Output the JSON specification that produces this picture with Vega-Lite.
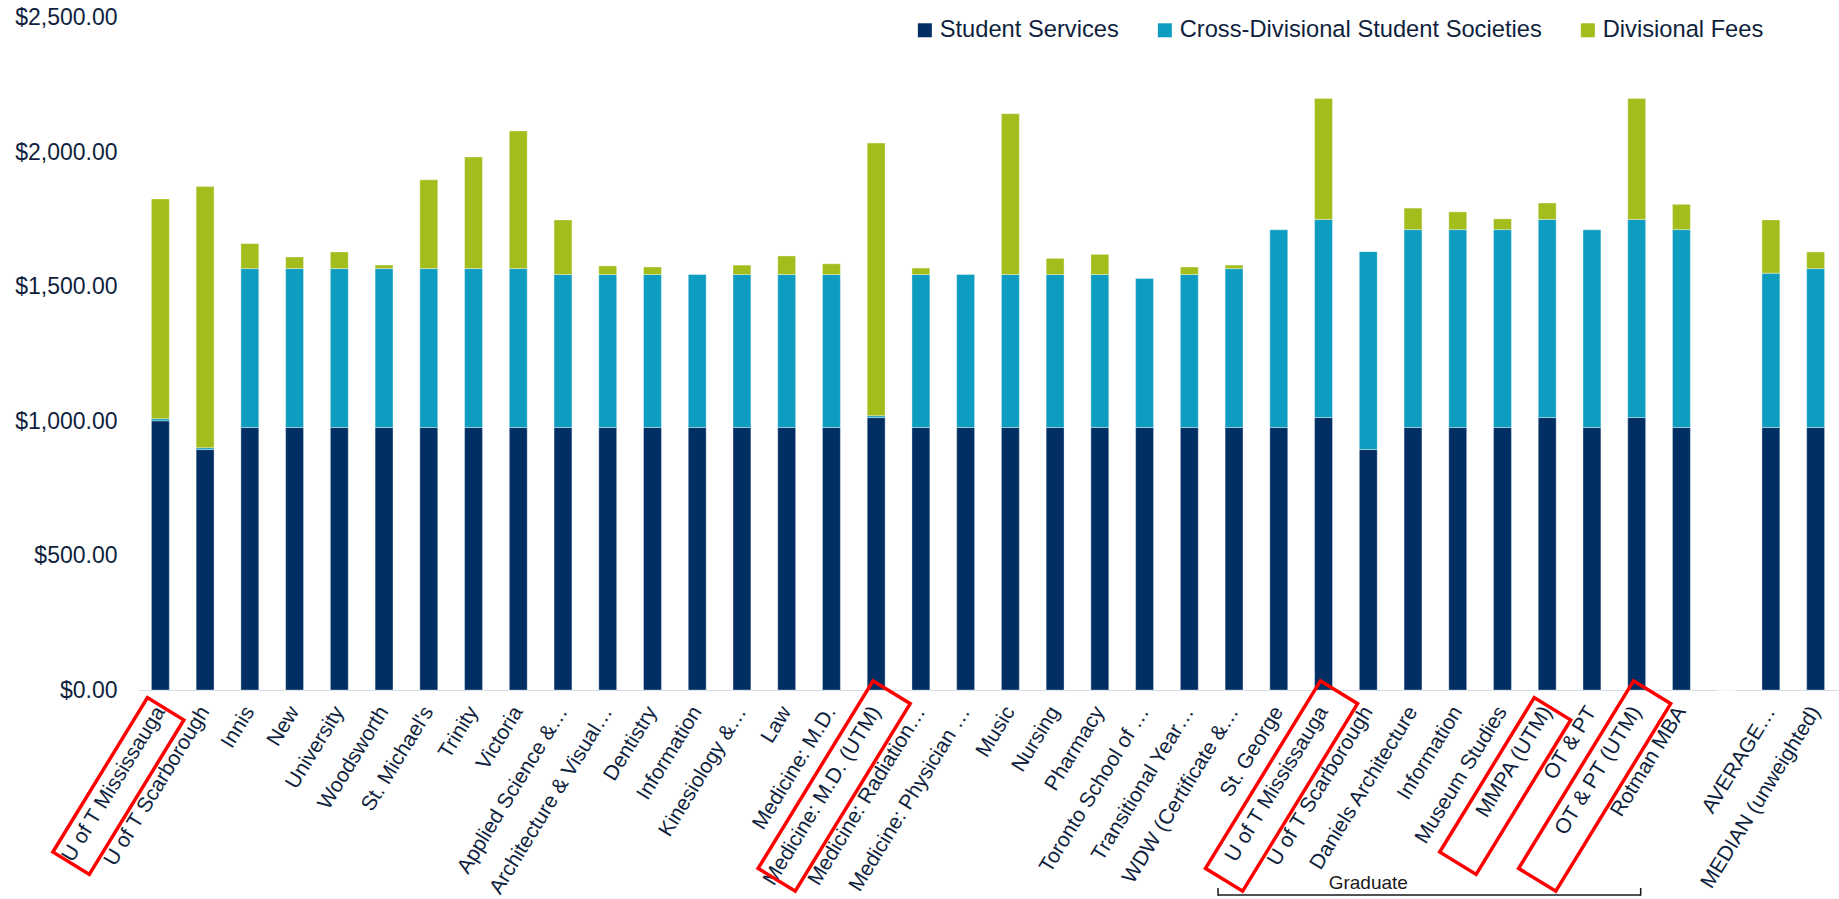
{
  "$schema": "https://vega.github.io/schema/vega-lite/v6.json",
  "width": 1700,
  "height": 672.3,
  "autosize": {"type": "none"},
  "padding": {"left": 138, "top": 17.7, "right": 1, "bottom": 209},
  "background": "#ffffff",
  "config": {
    "view": {"stroke": null},
    "font": "Liberation Sans",
    "axisX": {
      "domain": true, "domainColor": "#d5dce6", "domainWidth": 1.2,
      "ticks": false, "grid": false,
      "labelAngle": -58.5, "labelAlign": "right", "labelBaseline": "middle",
      "labelFont": "Liberation Sans", "labelFontSize": 21, "labelColor": "#0f1f3d",
      "labelPadding": 18, "labelLimit": 0, "labelOverlap": false, "labelBound": false, "labelFlush": false
    },
    "axisY": {
      "domain": false, "ticks": false, "grid": false,
      "labelFont": "Liberation Sans", "labelFontSize": 23, "labelColor": "#0f1f3d",
      "labelPadding": 21
    }
  },
  "datasets": {
    "fees": [
      {"category": "U of T Mississauga", "Student Services": 1001, "Cross-Divisional Student Societies": 8, "Divisional Fees": 817},
      {"category": "U of T Scarborough", "Student Services": 894, "Cross-Divisional Student Societies": 7, "Divisional Fees": 971},
      {"category": "Innis", "Student Services": 976, "Cross-Divisional Student Societies": 591, "Divisional Fees": 93},
      {"category": "New", "Student Services": 976, "Cross-Divisional Student Societies": 591, "Divisional Fees": 43},
      {"category": "University", "Student Services": 976, "Cross-Divisional Student Societies": 591, "Divisional Fees": 62},
      {"category": "Woodsworth", "Student Services": 976, "Cross-Divisional Student Societies": 591, "Divisional Fees": 13},
      {"category": "St. Michael's", "Student Services": 976, "Cross-Divisional Student Societies": 591, "Divisional Fees": 330},
      {"category": "Trinity", "Student Services": 976, "Cross-Divisional Student Societies": 591, "Divisional Fees": 415},
      {"category": "Victoria", "Student Services": 976, "Cross-Divisional Student Societies": 591, "Divisional Fees": 512},
      {"category": "Applied Science &…", "Student Services": 976, "Cross-Divisional Student Societies": 569, "Divisional Fees": 203},
      {"category": "Architecture & Visual…", "Student Services": 976, "Cross-Divisional Student Societies": 569, "Divisional Fees": 32},
      {"category": "Dentistry", "Student Services": 976, "Cross-Divisional Student Societies": 569, "Divisional Fees": 28},
      {"category": "Information", "Student Services": 976, "Cross-Divisional Student Societies": 570, "Divisional Fees": 0},
      {"category": "Kinesiology &…", "Student Services": 976, "Cross-Divisional Student Societies": 569, "Divisional Fees": 35},
      {"category": "Law", "Student Services": 976, "Cross-Divisional Student Societies": 569, "Divisional Fees": 69},
      {"category": "Medicine: M.D.", "Student Services": 976, "Cross-Divisional Student Societies": 569, "Divisional Fees": 40},
      {"category": "Medicine: M.D. (UTM)", "Student Services": 1013, "Cross-Divisional Student Societies": 7, "Divisional Fees": 1014},
      {"category": "Medicine: Radiation…", "Student Services": 976, "Cross-Divisional Student Societies": 569, "Divisional Fees": 24},
      {"category": "Medicine: Physician …", "Student Services": 976, "Cross-Divisional Student Societies": 570, "Divisional Fees": 0},
      {"category": "Music", "Student Services": 976, "Cross-Divisional Student Societies": 569, "Divisional Fees": 598},
      {"category": "Nursing", "Student Services": 976, "Cross-Divisional Student Societies": 569, "Divisional Fees": 60},
      {"category": "Pharmacy", "Student Services": 976, "Cross-Divisional Student Societies": 569, "Divisional Fees": 75},
      {"category": "Toronto School of …", "Student Services": 976, "Cross-Divisional Student Societies": 555, "Divisional Fees": 0},
      {"category": "Transitional Year…", "Student Services": 976, "Cross-Divisional Student Societies": 569, "Divisional Fees": 28},
      {"category": "WDW (Certificate &…", "Student Services": 976, "Cross-Divisional Student Societies": 591, "Divisional Fees": 13},
      {"category": "St. George", "Student Services": 976, "Cross-Divisional Student Societies": 736, "Divisional Fees": 0},
      {"category": "U of T Mississauga\u200b", "Student Services": 1013, "Cross-Divisional Student Societies": 737, "Divisional Fees": 450},
      {"category": "U of T Scarborough\u200b", "Student Services": 894, "Cross-Divisional Student Societies": 737, "Divisional Fees": 0},
      {"category": "Daniels Architecture", "Student Services": 976, "Cross-Divisional Student Societies": 736, "Divisional Fees": 80},
      {"category": "Information\u200b", "Student Services": 976, "Cross-Divisional Student Societies": 736, "Divisional Fees": 66},
      {"category": "Museum Studies", "Student Services": 976, "Cross-Divisional Student Societies": 736, "Divisional Fees": 40},
      {"category": "MMPA (UTM)", "Student Services": 1013, "Cross-Divisional Student Societies": 737, "Divisional Fees": 61},
      {"category": "OT & PT", "Student Services": 976, "Cross-Divisional Student Societies": 736, "Divisional Fees": 0},
      {"category": "OT & PT (UTM)", "Student Services": 1013, "Cross-Divisional Student Societies": 737, "Divisional Fees": 450},
      {"category": "Rotman MBA", "Student Services": 976, "Cross-Divisional Student Societies": 736, "Divisional Fees": 94},
      {"category": "\u200b", "Student Services": 0, "Cross-Divisional Student Societies": 0, "Divisional Fees": 0},
      {"category": "AVERAGE…", "Student Services": 976, "Cross-Divisional Student Societies": 574, "Divisional Fees": 198},
      {"category": "MEDIAN (unweighted)", "Student Services": 976, "Cross-Divisional Student Societies": 591, "Divisional Fees": 62}
    ]
  },
  "layer": [
    {
      "data": {"name": "fees"},
      "transform": [
        {"fold": ["Student Services", "Cross-Divisional Student Societies", "Divisional Fees"], "as": ["series", "amount"]},
        {"window": [{"op": "row_number", "as": "stackOrder"}], "groupby": ["category"]}
      ],
      "mark": {"type": "bar", "stroke": "#ffffff", "strokeWidth": 0.5, "strokeOpacity": 0.7},
      "encoding": {
        "x": {"field": "category", "type": "nominal", "sort": null, "title": null,
              "scale": {"paddingInner": 0.6, "paddingOuter": 0.3}},
        "y": {"field": "amount", "type": "quantitative", "stack": "zero", "title": null,
              "scale": {"domain": [0, 2500], "nice": false},
              "axis": {"values": [0, 500, 1000, 1500, 2000, 2500], "format": "$,.2f"}},
        "color": {"field": "series", "type": "nominal",
                  "scale": {"domain": ["Student Services", "Cross-Divisional Student Societies", "Divisional Fees"],
                            "range": ["#012f63", "#0e9dc0", "#a3bd1c"]},
                  "legend": {"title": null, "orient": "none", "legendX": 775, "legendY": 0.5,
                             "direction": "horizontal", "symbolType": "square", "symbolSize": 196,
                             "symbolStrokeWidth": 0, "labelFont": "Liberation Sans", "labelFontSize": 23.7,
                             "labelColor": "#0f1f3d", "labelOffset": 3, "columnPadding": 34,
                             "labelLimit": 600, "padding": 0}},
        "order": {"field": "stackOrder", "type": "quantitative"}
      }
    },
    {
      "data": {"name": "fees"},
      "transform": [{"filter": {"field": "category", "oneOf": ["U of T Mississauga", "MMPA (UTM)"]}}],
      "mark": {"type": "point", "shape": "M-1,-0.236L1,-0.236L1,0.236L-1,0.236Z", "size": 32761,
               "angle": 301.5, "filled": false, "stroke": "#ff0000", "strokeWidth": 3.5, "opacity": 1,
               "xOffset": -42, "yOffset": 96},
      "encoding": {
        "x": {"field": "category", "type": "nominal", "sort": null, "title": null},
        "y": {"datum": 0, "type": "quantitative", "title": null}
      }
    },
    {
      "data": {"name": "fees"},
      "transform": [{"filter": {"field": "category", "oneOf": ["Medicine: M.D. (UTM)", "U of T Mississauga\u200b", "OT & PT (UTM)"]}}],
      "mark": {"type": "point", "shape": "M-1,-0.198L1,-0.198L1,0.198L-1,0.198Z", "size": 48400,
               "angle": 301.5, "filled": false, "stroke": "#ff0000", "strokeWidth": 3.5, "opacity": 1,
               "xOffset": -42, "yOffset": 96},
      "encoding": {
        "x": {"field": "category", "type": "nominal", "sort": null, "title": null},
        "y": {"datum": 0, "type": "quantitative", "title": null}
      }
    },
    {
      "data": {"name": "fees"},
      "transform": [
        {"filter": {"field": "category", "oneOf": ["WDW (Certificate &…", "OT & PT (UTM)"]}},
        {"aggregate": [{"op": "max", "field": "category", "as": "bracketStart"}, {"op": "min", "field": "category", "as": "bracketEnd"}]}
      ],
      "mark": {"type": "rule", "color": "#1a1a1a", "strokeWidth": 1.5, "xOffset": -16, "x2Offset": 4, "yOffset": 205},
      "encoding": {
        "x": {"field": "bracketStart", "type": "nominal", "sort": null, "title": null},
        "x2": {"field": "bracketEnd"},
        "y": {"datum": 0, "type": "quantitative", "title": null}
      }
    },
    {
      "data": {"name": "fees"},
      "transform": [{"filter": {"field": "category", "equal": "WDW (Certificate &…"}}],
      "mark": {"type": "rule", "color": "#1a1a1a", "strokeWidth": 1.5, "xOffset": -16, "yOffset": 198, "y2Offset": 205.7},
      "encoding": {
        "x": {"field": "category", "type": "nominal", "sort": null, "title": null},
        "y": {"datum": 0, "type": "quantitative", "title": null},
        "y2": {"datum": 0}
      }
    },
    {
      "data": {"name": "fees"},
      "transform": [{"filter": {"field": "category", "equal": "OT & PT (UTM)"}}],
      "mark": {"type": "rule", "color": "#1a1a1a", "strokeWidth": 1.5, "xOffset": 4, "yOffset": 198, "y2Offset": 205.7},
      "encoding": {
        "x": {"field": "category", "type": "nominal", "sort": null, "title": null},
        "y": {"datum": 0, "type": "quantitative", "title": null},
        "y2": {"datum": 0}
      }
    },
    {
      "data": {"name": "fees"},
      "transform": [{"filter": {"field": "category", "equal": "U of T Scarborough\u200b"}}],
      "mark": {"type": "text", "font": "Liberation Sans", "fontSize": 19, "color": "#1a1a1a",
               "align": "center", "baseline": "middle", "yOffset": 193},
      "encoding": {
        "x": {"field": "category", "type": "nominal", "sort": null, "title": null},
        "y": {"datum": 0, "type": "quantitative", "title": null},
        "text": {"value": "Graduate"}
      }
    }
  ]
}
